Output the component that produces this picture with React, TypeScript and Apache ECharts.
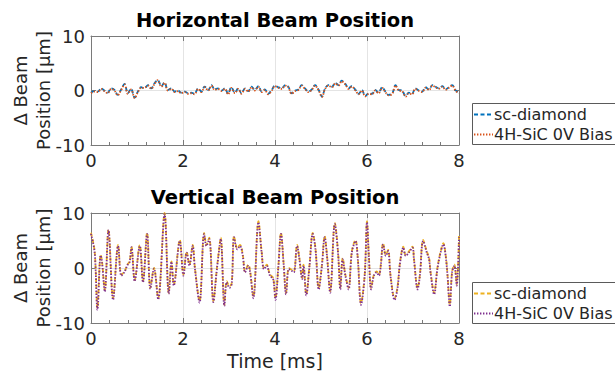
import React, { useEffect, useRef } from "react";
import * as echarts from "echarts";

// ---- Horizontal beam position (top panel) ----
const hTime = [
  0.00,0.07,0.15,0.22,0.29,0.36,0.44,0.51,0.58,0.65,
  0.73,0.80,0.87,0.95,1.02,1.09,1.16,1.24,1.31,1.38,
  1.45,1.53,1.60,1.67,1.75,1.82,1.89,1.96,2.04,2.11,
  2.18,2.25,2.33,2.40,2.47,2.55,2.62,2.69,2.76,2.84,
  2.91,2.98,3.05,3.13,3.20,3.27,3.35,3.42,3.49,3.56,
  3.64,3.71,3.78,3.85,3.93,4.00,4.07,4.15,4.22,4.29,
  4.36,4.44,4.51,4.58,4.65,4.73,4.80,4.87,4.95,5.02,
  5.09,5.16,5.24,5.31,5.38,5.45,5.53,5.60,5.67,5.75,
  5.82,5.89,5.96,6.04,6.11,6.18,6.25,6.33,6.40,6.47,
  6.55,6.62,6.69,6.76,6.84,6.91,6.98,7.05,7.13,7.20,
  7.27,7.35,7.42,7.49,7.56,7.64,7.71,7.78,7.85,7.93,
  8.00,
];
const hDiamond = [
  -0.4,-0.1,-0.2,0.4,0.0,-0.4,0.4,0.1,-0.8,0.1,
  1.2,-0.5,0.3,-1.3,-0.2,0.6,0.4,1.0,0.4,1.3,
  1.9,0.8,1.5,0.1,0.4,-0.2,0.0,-0.4,-0.2,-0.5,
  -0.4,-0.6,0.4,-0.2,0.7,0.1,1.0,0.2,0.4,0.0,
  0.4,-0.6,0.6,-0.4,0.4,-0.5,0.4,-0.1,0.7,0.1,
  0.8,-0.2,0.2,-0.6,0.1,0.9,0.6,0.4,1.0,0.7,
  -0.5,0.0,0.2,1.0,0.4,-0.2,0.2,1.0,0.1,-1.1,
  0.4,1.0,0.7,1.4,1.0,1.8,1.2,0.4,0.8,0.1,
  -0.6,0.1,-1.0,-0.5,-0.6,0.1,-0.4,0.6,-0.2,-0.8,
  -0.5,1.0,0.1,0.0,-1.0,-0.4,-0.6,0.4,0.0,-0.2,
  0.6,0.2,1.0,0.7,0.4,0.8,0.2,0.6,1.0,0.0,
  -0.4,
];
const hSiC = [
  -0.5,-0.2,-0.3,0.3,-0.1,-0.5,0.3,0.0,-0.9,0.0,
  1.1,-0.6,0.2,-1.4,-0.3,0.5,0.5,0.9,0.3,1.2,
  1.9,0.7,1.4,0.0,0.3,-0.3,-0.1,-0.5,-0.3,-0.6,
  -0.5,-0.7,0.3,-0.3,0.6,0.0,0.9,0.1,0.3,-0.1,
  0.3,-0.7,0.5,-0.5,0.3,-0.6,0.3,-0.2,0.6,0.0,
  0.7,-0.3,0.1,-0.7,0.0,0.8,0.5,0.3,0.9,0.6,
  -0.6,-0.1,0.1,0.9,0.3,-0.3,0.1,0.9,0.0,-1.2,
  0.3,0.9,0.6,1.3,0.9,1.7,1.1,0.3,0.7,0.0,
  -0.7,0.0,-1.1,-0.6,-0.7,0.0,-0.5,0.5,-0.3,-0.9,
  -0.6,0.9,0.0,-0.1,-1.1,-0.5,-0.7,0.3,-0.1,-0.3,
  0.5,0.1,0.9,0.6,0.3,0.7,0.1,0.5,0.9,-0.1,
  -0.5,
];

// ---- Vertical beam position (bottom panel) ----
const vTime = [
  0.00,0.08,0.14,0.21,0.24,0.30,0.38,0.48,0.59,0.66,
  0.73,0.79,0.84,0.88,0.95,1.06,1.13,1.22,1.29,1.37,
  1.46,1.60,1.69,1.75,1.80,1.93,2.01,2.08,2.14,2.21,
  2.26,2.36,2.46,2.51,2.57,2.66,2.73,2.77,2.82,2.90,
  2.95,3.01,3.06,3.11,3.18,3.24,3.30,3.35,3.42,3.46,
  3.53,3.64,3.71,3.76,3.82,3.89,3.96,4.01,4.07,4.13,
  4.19,4.24,4.30,4.36,4.41,4.48,4.53,4.59,4.62,4.68,
  4.75,4.82,4.88,4.95,5.02,5.08,5.13,5.20,5.30,5.37,
  5.42,5.47,5.53,5.60,5.67,5.75,5.80,5.87,5.95,6.00,
  6.04,6.09,6.15,6.21,6.26,6.30,6.35,6.41,6.46,6.51,
  6.60,6.66,6.72,6.79,6.84,6.91,6.99,7.02,7.10,7.15,
  7.22,7.30,7.35,7.38,7.46,7.53,7.60,7.66,7.71,7.75,
  7.80,7.85,7.90,7.95,8.00,
];
const vDiamond = [
  6.4,3.0,-7.3,2.4,1.2,-4.0,7.0,-5.5,4.2,-1.2,
  -0.6,0.6,1.2,3.9,-2.2,4.2,-2.4,6.4,-3.6,0.0,
  -5.5,10.0,-4.5,1.2,-3.0,5.1,-1.2,3.0,0.6,4.2,
  0.0,-6.0,6.4,4.2,5.5,-6.0,-0.6,2.4,5.5,-6.7,
  -2.4,-3.3,-2.7,5.8,3.6,4.2,2.4,-0.6,0.6,-0.6,
  -5.2,8.5,3.0,0.0,0.6,-1.2,-1.8,-5.5,0.0,6.4,
  0.6,-4.5,0.0,-0.3,-0.6,4.2,1.8,-1.8,0.6,-4.8,
  0.6,6.4,3.6,-3.6,0.6,5.8,2.4,-4.2,8.2,3.0,
  -3.6,1.8,-1.2,-3.6,3.0,5.1,1.8,-6.4,-1.2,8.5,
  2.4,-3.6,-1.2,-0.6,-1.2,0.6,4.5,2.4,3.3,-1.2,
  -5.5,-3.6,1.2,3.9,2.4,3.0,3.9,1.8,-3.6,-1.2,
  5.1,3.0,1.8,-0.6,-4.5,0.0,3.0,4.5,2.4,-1.2,
  -6.7,-0.6,0.6,-3.0,5.8,
];
const vSiC = [
  6.2,2.8,-7.6,2.3,1.0,-4.3,6.9,-5.8,4.0,-1.4,
  -0.7,0.5,1.1,3.8,-2.4,4.0,-2.6,6.2,-3.8,-0.1,
  -5.7,9.8,-4.7,1.1,-3.2,4.9,-1.4,2.8,0.4,4.0,
  -0.2,-6.3,6.2,4.0,5.3,-6.2,-0.8,2.2,5.3,-6.9,
  -2.6,-3.6,-2.9,5.6,3.4,4.0,2.2,-0.8,0.4,-0.8,
  -5.5,8.3,2.8,-0.2,0.4,-1.4,-2.0,-5.8,-0.2,6.2,
  0.4,-4.8,-0.2,-0.5,-0.8,4.0,1.6,-2.0,0.4,-5.0,
  0.4,6.2,3.4,-3.9,0.4,5.6,2.2,-4.5,8.0,2.8,
  -3.9,1.6,-1.4,-3.9,2.8,4.9,1.6,-6.7,-1.4,8.3,
  2.2,-3.9,-1.4,-0.8,-1.4,0.4,4.3,2.2,3.1,-1.4,
  -5.8,-3.9,1.0,3.7,2.2,2.8,3.7,1.6,-3.9,-1.4,
  4.9,2.8,1.6,-0.8,-4.8,-0.2,2.8,4.3,2.2,-1.4,
  -7.0,-0.8,0.4,-3.2,5.6,
];

const seriesNames = ["sc-diamond", "4H-SiC 0V Bias"];
const titles = ["Horizontal Beam Position", "Vertical Beam Position"];
const xTicks = [0, 2, 4, 6, 8];
const yTicks = [-10, 0, 10];
const xLabel = "Time [ms]";
const yLabel1 = "Δ Beam";
const yLabel2 = "Position [μm]";

const FONT = "DejaVu Sans";
const AXIS_COLOR = "#7a7a7a";
const TEXT_COLOR = "#262626";
const GRID_COLOR = "#e4e4e4";
const DASH = [4, 2.5];
const DOT = [1.4, 1.6];
const LINE_W = 1.8;
const colors = {
  hDiamond: "#0072BD",
  hSiC: "#D95319",
  vDiamond: "#EDB120",
  vSiC: "#7E2F8E",
};

const panels = [
  { top: 36, height: 109 },
  { top: 213, height: 110 },
];
const LEFT = 91;
const WIDTH = 368;

function makeX(gridIndex: number, position: "bottom" | "top", withLabels: boolean, name?: string) {
  return {
    type: "value",
    gridIndex,
    position,
    min: xTicks[0],
    max: xTicks[xTicks.length - 1],
    interval: xTicks[1] - xTicks[0],
    name: name || "",
    nameLocation: "middle",
    nameGap: 28,
    nameTextStyle: { fontSize: 19, color: TEXT_COLOR, fontFamily: FONT },
    axisLine: { show: true, onZero: false, lineStyle: { color: AXIS_COLOR, width: 1 } },
    axisTick: { show: true, inside: true, length: 5, lineStyle: { color: AXIS_COLOR } },
    minorTick: { show: true, splitNumber: 5, length: 3, lineStyle: { color: AXIS_COLOR } },
    axisLabel: {
      show: withLabels,
      fontSize: 18,
      color: TEXT_COLOR,
      fontFamily: FONT,
      margin: 6,
    },
    splitLine: { show: position === "bottom", lineStyle: { color: GRID_COLOR } },
  };
}

function makeY(gridIndex: number, position: "left" | "right", withLabels: boolean) {
  return {
    type: "value",
    gridIndex,
    position,
    min: yTicks[0],
    max: yTicks[yTicks.length - 1],
    interval: yTicks[1] - yTicks[0],
    axisLine: { show: true, onZero: false, lineStyle: { color: AXIS_COLOR, width: 1 } },
    axisTick: { show: true, inside: true, length: 5, lineStyle: { color: AXIS_COLOR } },
    axisLabel: {
      show: withLabels,
      fontSize: 18,
      color: TEXT_COLOR,
      fontFamily: FONT,
      margin: 6,
    },
    splitLine: { show: position === "left", lineStyle: { color: GRID_COLOR } },
  };
}

function lineSeries(
  name: string,
  xi: number,
  times: number[],
  values: number[],
  color: string,
  dash: number[],
  z: number
) {
  return {
    type: "line",
    name,
    xAxisIndex: xi,
    yAxisIndex: xi,
    data: times.map((t, i) => [t, values[i]]),
    showSymbol: false,
    symbol: "none",
    smooth: 0.35,
    z,
    lineStyle: { color, width: LINE_W, type: dash, cap: "butt" },
  };
}

function legendGraphics(top: number, c1: string, c2: string) {
  const x0 = 472;
  return [
    {
      type: "rect",
      shape: { x: x0 + 0.5, y: top + 0.5, width: 170, height: 41 },
      style: { fill: "#ffffff", stroke: "#5a5a5a", lineWidth: 1 },
      z: 10,
    },
    {
      type: "line",
      shape: { x1: x0 + 2, y1: top + 11.5, x2: x0 + 21, y2: top + 11.5 },
      style: { stroke: c1, lineWidth: LINE_W, lineDash: DASH },
      z: 11,
    },
    {
      type: "line",
      shape: { x1: x0 + 2, y1: top + 31.5, x2: x0 + 21, y2: top + 31.5 },
      style: { stroke: c2, lineWidth: LINE_W, lineDash: DOT },
      z: 11,
    },
    {
      type: "text",
      x: x0 + 22,
      y: top + 11.5,
      style: {
        text: seriesNames[0],
        fontSize: 16,
        fontFamily: FONT,
        fill: TEXT_COLOR,
        textAlign: "left",
        textVerticalAlign: "middle",
      },
      z: 11,
    },
    {
      type: "text",
      x: x0 + 22,
      y: top + 31.5,
      style: {
        text: seriesNames[1],
        fontSize: 16,
        fontFamily: FONT,
        fill: TEXT_COLOR,
        textAlign: "left",
        textVerticalAlign: "middle",
      },
      z: 11,
    },
  ];
}

function yLabelGraphics(centerY: number) {
  return [
    {
      type: "text",
      x: 20,
      y: centerY,
      rotation: Math.PI / 2,
      style: {
        text: yLabel1,
        fontSize: 18,
        fontFamily: FONT,
        fill: TEXT_COLOR,
        textAlign: "center",
        textVerticalAlign: "middle",
      },
    },
    {
      type: "text",
      x: 43,
      y: centerY,
      rotation: Math.PI / 2,
      style: {
        text: yLabel2,
        fontSize: 18,
        fontFamily: FONT,
        fill: TEXT_COLOR,
        textAlign: "center",
        textVerticalAlign: "middle",
      },
    },
  ];
}

function titleGraphic(text: string, y: number) {
  return {
    type: "text",
    x: LEFT + WIDTH / 2,
    y,
    style: {
      text,
      fontSize: 19.5,
      fontWeight: "bold",
      fontFamily: FONT,
      fill: "#000000",
      textAlign: "center",
      textVerticalAlign: "middle",
    },
  };
}

export default function App() {
  const ref = useRef<HTMLDivElement>(null);

  useEffect(() => {
    if (!ref.current) return;
    const chart = echarts.init(ref.current, null, { renderer: "svg" });
    const option = {
      animation: false,
      backgroundColor: "#ffffff",
      grid: panels.map((p) => ({ left: LEFT, top: p.top, width: WIDTH, height: p.height })),
      xAxis: [
        makeX(0, "bottom", true),
        makeX(0, "top", false),
        makeX(1, "bottom", true, xLabel),
        makeX(1, "top", false),
      ],
      yAxis: [
        makeY(0, "left", true),
        makeY(0, "right", false),
        makeY(1, "left", true),
        makeY(1, "right", false),
      ],
      series: [
        lineSeries(seriesNames[0], 0, hTime, hDiamond, colors.hDiamond, DASH, 2),
        lineSeries(seriesNames[1], 0, hTime, hSiC, colors.hSiC, DOT, 3),
        lineSeries(seriesNames[0], 2, vTime, vDiamond, colors.vDiamond, DASH, 2),
        lineSeries(seriesNames[1], 2, vTime, vSiC, colors.vSiC, DOT, 3),
      ],
      graphic: [
        titleGraphic(titles[0], 20),
        titleGraphic(titles[1], 197),
        ...yLabelGraphics(90.5),
        ...yLabelGraphics(268),
        ...legendGraphics(103, colors.hDiamond, colors.hSiC),
        ...legendGraphics(282, colors.vDiamond, colors.vSiC),
      ],
    };
    chart.setOption(option as any);
    return () => {
      chart.dispose();
    };
  }, []);

  return (
    <div
      ref={ref}
      style={{ position: "fixed", left: 0, top: 0, width: 615, height: 371, background: "#fff" }}
    />
  );
}
